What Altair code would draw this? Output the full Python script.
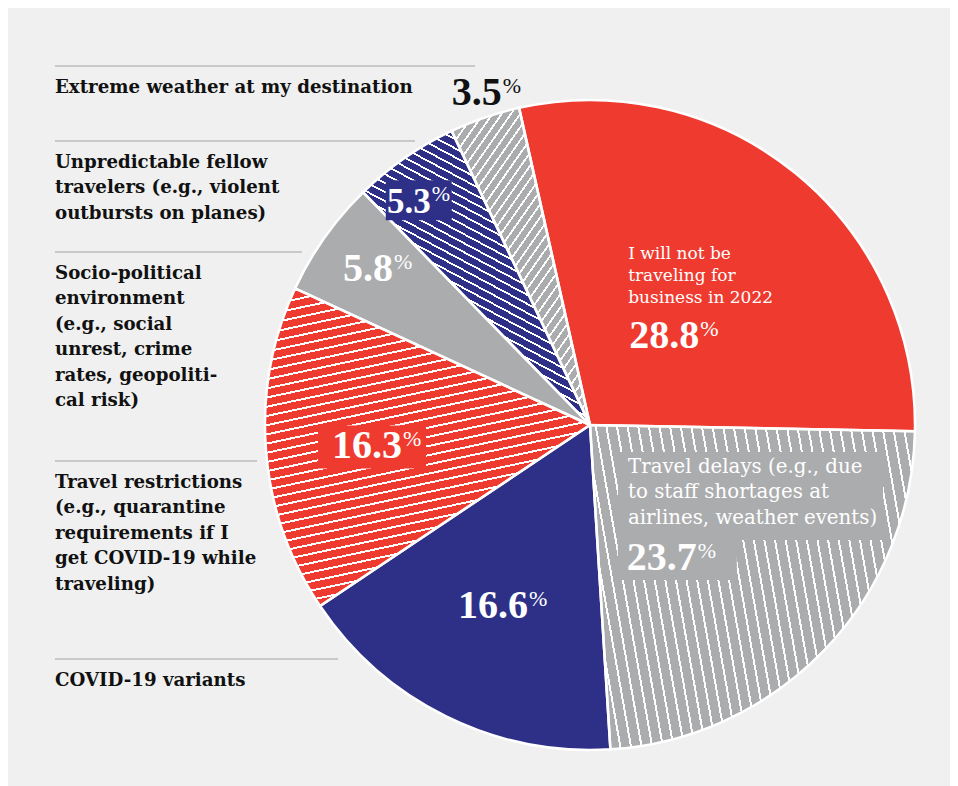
import math
import json
import altair as alt
import pandas as pd

# ---------------- data ----------------
categories = [
    "I will not be traveling for business in 2022",
    "Travel delays (e.g., due to staff shortages at airlines, weather events)",
    "COVID-19 variants",
    "Travel restrictions (e.g., quarantine requirements if I get COVID-19 while traveling)",
    "Socio-political environment (e.g., social unrest, crime rates, geopolitical risk)",
    "Unpredictable fellow travelers (e.g., violent outbursts on planes)",
    "Extreme weather at my destination",
]
values = [28.8, 23.7, 16.6, 16.3, 5.8, 5.3, 3.5]
value_text = ["28.8", "23.7", "16.6", "16.3", "5.8", "5.3", "3.5"]
inside_text = [
    "I will not be\ntraveling for\nbusiness in 2022",
    "Travel delays (e.g., due\nto staff shortages at\nairlines, weather events)",
    "", "", "", "", "",
]
side_text = [
    "", "",
    "COVID-19 variants",
    "Travel restrictions\n(e.g., quarantine\nrequirements if I\nget COVID-19 while\ntraveling)",
    "Socio-political\nenvironment\n(e.g., social\nunrest, crime\nrates, geopoliti-\ncal risk)",
    "Unpredictable fellow\ntravelers (e.g., violent\noutbursts on planes)",
    "Extreme weather at my destination",
]

# ---------------- styles ----------------
RED, NAVY, GRAY, BG = "#EE3A2F", "#2E3088", "#ABACAE", "#EFF0EF"
slice_colors = [RED, GRAY, NAVY, RED, GRAY, NAVY, GRAY]

W, H = 942, 778
CX, CY, R = 582, 417, 325
START = math.radians(-12.6)

df = pd.DataFrame({
    "cat": categories, "value": values, "order": list(range(len(values))),
    "num": value_text, "inside": inside_text, "side": side_text,
})

# hatch: order -> (stripe normal angle deg, period px, white width px)
hatch = {1: (-10, 10.5, 2.0), 3: (78, 9.0, 2.0), 5: (118, 8.0, 1.8), 6: (35, 7.5, 1.8)}


def wedge_bbox(a1, a2, r):
    pts = [(0.0, 0.0), (r * math.sin(a1), -r * math.cos(a1)), (r * math.sin(a2), -r * math.cos(a2))]
    for k in range(-4, 9):
        c = k * math.pi / 2
        if a1 < c < a2:
            pts.append((r * math.sin(c), -r * math.cos(c)))
    xs = [p[0] for p in pts]
    ys = [p[1] for p in pts]
    return max(xs) - min(xs), max(ys) - min(ys)


def make_gradient(i):
    phi, period, w = hatch[i]
    tot = sum(values)
    before = sum(values[:i])
    a1 = START + 2 * math.pi * before / tot
    a2 = START + 2 * math.pi * (before + values[i]) / tot
    bw, bh = wedge_bbox(a1, a2, R)
    p = math.radians(phi)
    A, B = bw * math.cos(p), bh * math.sin(p)
    s = (abs(A) + abs(B)) / (A * A + B * B)
    a, b = s * A, s * B
    extent = bw * abs(math.cos(p)) + bh * abs(math.sin(p))
    n = max(1, int(round(extent / period)))
    wf = (w / period) / n
    col = slice_colors[i]
    stops = []
    for k in range(n):
        st, en = k / n, (k + 1) / n
        stops += [
            {"offset": round(st, 5), "color": col},
            {"offset": round(en - wf, 5), "color": col},
            {"offset": round(en - wf, 5), "color": "#FFFFFF"},
            {"offset": round(en, 5), "color": "#FFFFFF"},
        ]
    return {"gradient": "linear", "x1": 0.5 - a / 2, "y1": 0.5 - b / 2,
            "x2": 0.5 + a / 2, "y2": 0.5 + b / 2, "stops": stops}


theta = alt.Theta("value:Q", stack=True, scale=alt.Scale(range=[START, START + 2 * math.pi]))
order = alt.Order("order:Q", sort="ascending")
fill_scale = alt.Scale(domain=list(range(len(values))), range=slice_colors)
cx, cy = alt.value(CX), alt.value(CY)

layers = []
layers.append(alt.Chart(df).mark_arc(radius=R).encode(
    x=cx, y=cy, theta=theta, order=order,
    fill=alt.Fill("order:N", scale=fill_scale, legend=None)))
for i in hatch:
    layers.append(alt.Chart(df).mark_arc(radius=R).encode(
        x=cx, y=cy, theta=theta, order=order,
        fill=alt.condition(f"datum.order == {i}", alt.value(make_gradient(i)), alt.value("transparent"))))
layers.append(alt.Chart(df).mark_arc(radius=R, fill="transparent", stroke="white", strokeWidth=2.5).encode(
    x=cx, y=cy, theta=theta, order=order))

# ---------------- label layout (polar offsets from slice middle) ----------------
NUM_R = [133.5, 180.2, 202.7, 190.9, 244.0, 265.0, 331.9]
NUM_OFF = [15.6, 9.9, -8.5, -5.6, 0.9, -2.2, 3.5]
BLOCK_R = [170.3, 61.2, 0, 0, 0, 0, 0]
BLOCK_OFF = [-26.3, 7.9, 0, 0, 0, 0, 0]
# box offsets (x0, x1, y0, y1) relative to the number / block anchor
NBOX = [[0, 0, 0, 0], [-79, 40, -30, 10], [0, 0, 0, 0], [-84, 24, -33, 10],
        [0, 0, 0, 0], [-45, 21, -33, 7], [0, 0, 0, 0]]
BBOX = [[0, 0, 0, 0], [-10, 255, -21, 67], [0, 0, 0, 0], [0, 0, 0, 0],
        [0, 0, 0, 0], [0, 0, 0, 0], [0, 0, 0, 0]]
RULE_Y = [0, 0, 651, 453, 244, 133, 58]
RULE_X2 = [0, 0, 330, 249, 294, 407, 467]
LEFT_X = 47

J = json.dumps
lab = (alt.Chart(df)
       .transform_joinaggregate(total="sum(value)")
       .transform_window(cum="sum(value)", sort=[alt.SortField("order", order="ascending")], frame=[None, 0])
       .transform_calculate(mid=f"{START} + 2*PI*(datum.cum - datum.value/2)/datum.total")
       .transform_calculate(
           nx=f"{CX} + {J(NUM_R)}[datum.order]*sin(datum.mid + {J(NUM_OFF)}[datum.order]*PI/180)",
           ny=f"{CY} - {J(NUM_R)}[datum.order]*cos(datum.mid + {J(NUM_OFF)}[datum.order]*PI/180)",
           bx=f"{CX} + {J(BLOCK_R)}[datum.order]*sin(datum.mid + {J(BLOCK_OFF)}[datum.order]*PI/180)",
           by=f"{CY} - {J(BLOCK_R)}[datum.order]*cos(datum.mid + {J(BLOCK_OFF)}[datum.order]*PI/180)",
       ))


def xq(f):
    return alt.X(f"{f}:Q", scale=None, axis=None)


def yq(f):
    return alt.Y(f"{f}:Q", scale=None, axis=None)


# background boxes behind labels
nb = lab.transform_filter("indexof([1,3,5], datum.order) >= 0").transform_calculate(
    x0=f"datum.nx + {J(NBOX)}[datum.order][0]", x1=f"datum.nx + {J(NBOX)}[datum.order][1]",
    y0=f"datum.ny + {J(NBOX)}[datum.order][2]", y1=f"datum.ny + {J(NBOX)}[datum.order][3]")
layers.append(nb.mark_rect().encode(x=xq("x0"), x2="x1:Q", y=yq("y0"), y2="y1:Q",
                                    fill=alt.Fill("order:N", scale=fill_scale, legend=None)))
bb = lab.transform_filter("datum.order == 1").transform_calculate(
    x0=f"datum.bx + {J(BBOX)}[datum.order][0]", x1=f"datum.bx + {J(BBOX)}[datum.order][1]",
    y0=f"datum.by + {J(BBOX)}[datum.order][2]", y1=f"datum.by + {J(BBOX)}[datum.order][3]")
layers.append(bb.mark_rect().encode(x=xq("x0"), x2="x1:Q", y=yq("y0"), y2="y1:Q",
                                    fill=alt.Fill("order:N", scale=fill_scale, legend=None)))

# numbers and percent signs
num_color = alt.condition("datum.order == 6", alt.value("#111111"), alt.value("white"))
layers.append(lab.mark_text(align="right", baseline="alphabetic", font="Liberation Serif",
                            fontWeight="bold").encode(
    x=xq("nx"), y=yq("ny"), text="num:N", color=num_color,
    size=alt.condition("datum.order == 5", alt.value(35), alt.value(40))))
layers.append(lab.mark_text(align="left", baseline="alphabetic", font="Liberation Serif",
                            fontWeight="normal", fontSize=22, dx=1, dy=-12).encode(
    x=xq("nx"), y=yq("ny"), text=alt.value("%"), color=num_color))

# inside text blocks
layers.append(lab.transform_filter("datum.order == 0").mark_text(
    align="left", baseline="alphabetic", font="DejaVu Serif", fontSize=17, lineBreak="\n",
    lineHeight=22, color="white").encode(x=xq("bx"), y=yq("by"), text="inside:N"))
layers.append(lab.transform_filter("datum.order == 1").mark_text(
    align="left", baseline="alphabetic", font="DejaVu Serif", fontSize=19.8, lineBreak="\n",
    lineHeight=25.5, color="white").encode(x=xq("bx"), y=yq("by"), text="inside:N"))

# side annotations with rules
side = lab.transform_filter("datum.side != ''").transform_calculate(
    lx=f"{LEFT_X}", rx=f"{J(RULE_X2)}[datum.order]", ry=f"{J(RULE_Y)}[datum.order]",
    ty=f"{J(RULE_Y)}[datum.order] + 26.5")
layers.append(side.mark_rule(color="#BDBDBD", strokeWidth=1.5).encode(
    x=xq("lx"), x2="rx:Q", y=yq("ry")))
layers.append(side.mark_text(align="left", baseline="alphabetic", font="DejaVu Serif",
                             fontWeight="bold", fontSize=18.2, lineBreak="\n", lineHeight=25.5,
                             color="#111111").encode(x=xq("lx"), y=yq("ty"), text="side:N"))

chart = alt.layer(*layers).properties(
    width=W, height=H, background=BG, padding=0,
    autosize=alt.AutoSizeParams(type="none"),
).configure_view(strokeWidth=0)

chart.save("out.html", embed_options={"renderer": "svg", "actions": False})
